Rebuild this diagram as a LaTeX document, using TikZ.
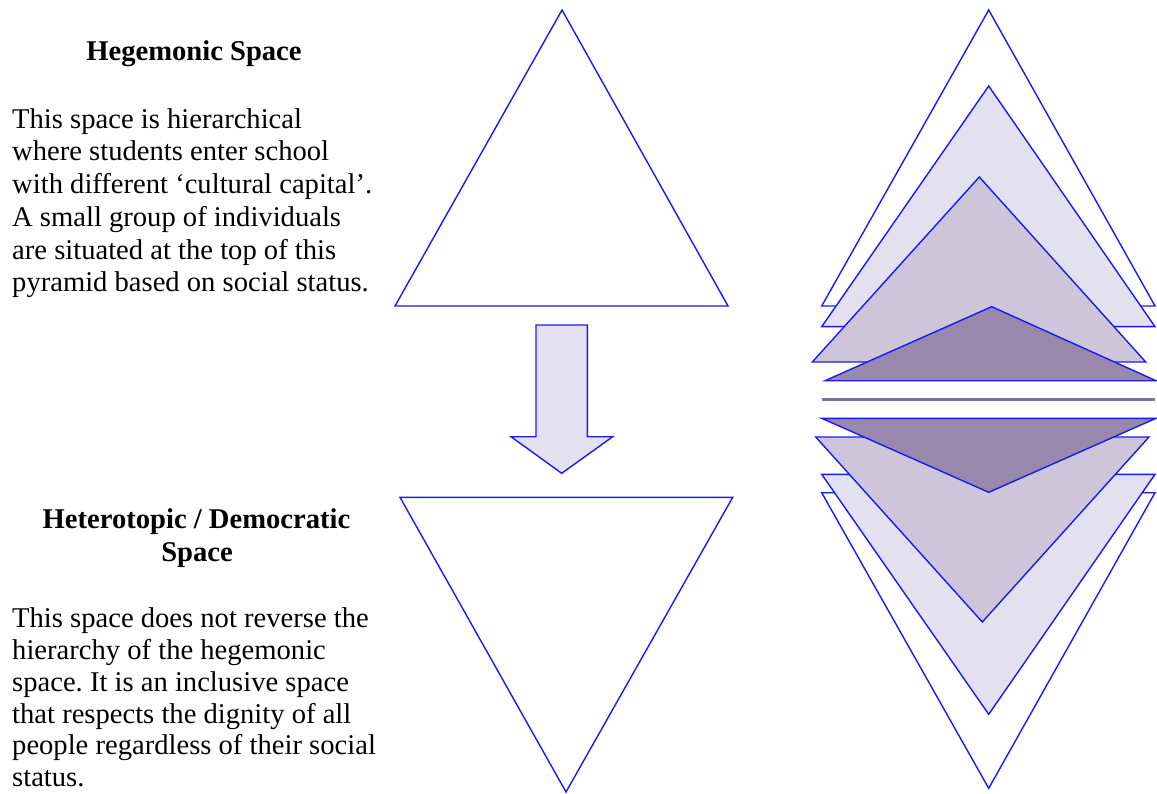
\documentclass[tikz,border=0pt]{standalone}
\usepackage{fontspec}
\setmainfont{Liberation Serif}
\frenchspacing
\definecolor{lineblue}{HTML}{1A1AF0}
\definecolor{lav}{HTML}{E3E1EF}
\definecolor{midlav}{HTML}{CDC6DA}
\definecolor{darklav}{HTML}{9888AC}
\definecolor{barcol}{HTML}{7F6F9C}
\tikzset{
  tri/.style={draw=lineblue, line width=1.4pt, line join=miter},
  txt/.style={inner sep=0pt, anchor=base west, font=\fontsize{28.6}{33}\selectfont},
  head/.style={inner sep=0pt, anchor=base, font=\fontsize{28.6}{33}\selectfont\bfseries},
}
\begin{document}
\begin{tikzpicture}[x=1pt,y=-1pt]
\useasboundingbox (0,0) rectangle (1157,794);
% headings
\node[head] (h1) at (194,61) {Hegemonic Space};
\node[head] (h2a) at (196.5,528) {Heterotopic / Democratic};
\node[head] (h2b) at (197,561) {Space};
% paragraph 1
\foreach \t [count=\i from 0] in {This space is hierarchical,where students enter school,with different ‘cultural capital’.,A small group of individuals,are situated at the top of this,pyramid based on social status.}
  \node[txt] (pa\i) at (12,128.3+32.7*\i) {\t};
% paragraph 2
\foreach \t [count=\i from 0] in {This space does not reverse the,hierarchy of the hegemonic,space. It is an inclusive space,that respects the dignity of all,people regardless of their social,status.}
  \node[txt] (pb\i) at (12,627.3+31.9*\i) {\t};
% middle column
\draw[tri, fill=white] (562,10) -- (728,306) -- (395,306) -- cycle;
\draw[tri, fill=lav] (536,325) -- (587.3,325) -- (587.3,436.7) -- (612.7,436.7) -- (561.7,473.3) -- (511,436.7) -- (536,436.7) -- cycle;
\draw[tri, fill=white] (400,497.3) -- (732.7,497.3) -- (566,792) -- cycle;
% right column, upward
\draw[tri, fill=white] (988.7,10) -- (1155,306) -- (821.7,306) -- cycle;
\draw[tri, fill=lav] (988.7,86) -- (1155,326.7) -- (821.7,326.7) -- cycle;
\draw[tri, fill=midlav] (979.3,177) -- (1145.7,362) -- (812.3,362) -- cycle;
\draw[tri, fill=darklav] (991.7,306.7) -- (1156,380.7) -- (825,380.7) -- cycle;
% bar
\draw[barcol, line width=3pt] (821.7,399.3) -- (1155,399.3);
% right column, downward
\draw[tri, fill=white] (821.7,492.7) -- (1155,492.7) -- (988.7,788.3) -- cycle;
\draw[tri, fill=lav] (821.7,474.3) -- (1155,474.3) -- (988.7,714.3) -- cycle;
\draw[tri, fill=midlav] (815.7,437) -- (1149,437) -- (982.3,622) -- cycle;
\draw[tri, fill=darklav] (821.7,418.3) -- (1156,418.3) -- (988.7,492.3) -- cycle;
\end{tikzpicture}
\end{document}
